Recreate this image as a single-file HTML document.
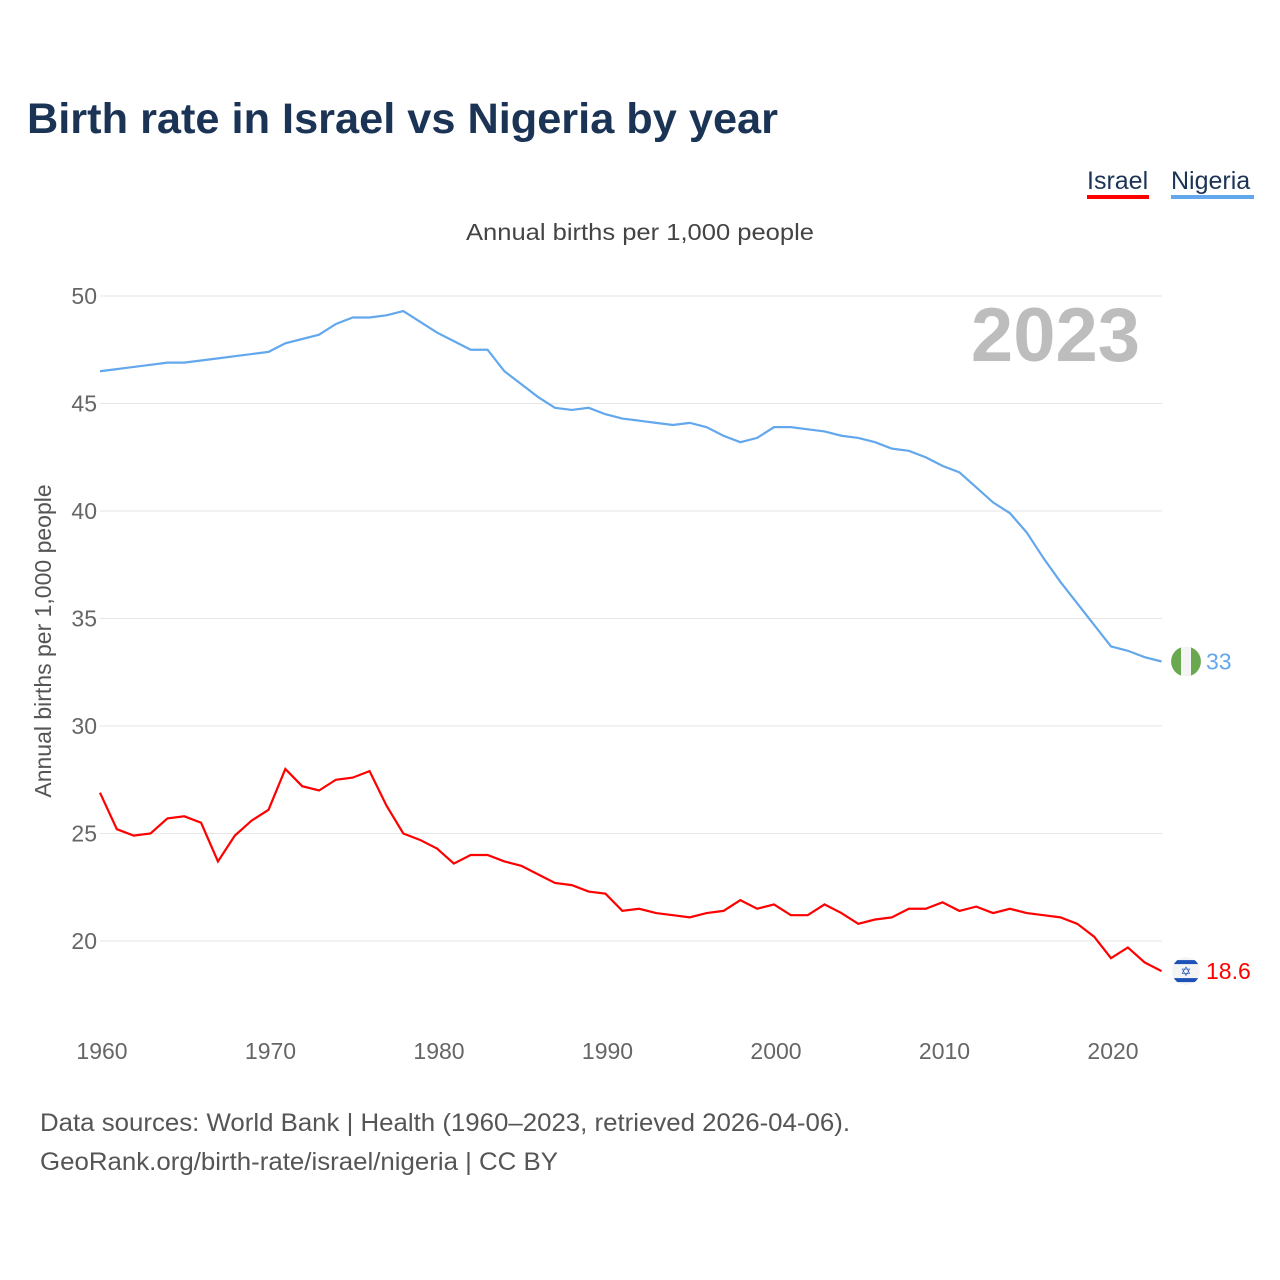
<!DOCTYPE html>
<html><head><meta charset="utf-8"><style>
body{margin:0;background:#fff;font-family:"Liberation Sans",sans-serif;}
#wrap{position:relative;width:1280px;height:1280px;overflow:hidden;}
</style></head><body>
<div id="wrap">
<svg id="chart" width="1280" height="1280">
<defs><clipPath id="ilclip"><circle cx="1186" cy="970" r="14"/></clipPath></defs>
<text x="27" y="133" font-size="43" font-weight="bold" fill="#1b3455" textLength="751" lengthAdjust="spacingAndGlyphs">Birth rate in Israel vs Nigeria by year</text>
<g><text x="1087" y="189" font-size="25" fill="#1b3455">Israel</text><rect x="1087" y="195" width="62" height="4" fill="#f00"/></g>
<g><text x="1171" y="189" font-size="25" fill="#1b3455">Nigeria</text><rect x="1171" y="195" width="83" height="4" fill="#63a7ec"/></g>
<text x="466" y="240" font-size="23" fill="#444" textLength="348" lengthAdjust="spacingAndGlyphs">Annual births per 1,000 people</text>
<text x="1140" y="361" font-size="76" font-weight="bold" fill="#bdbdbd" text-anchor="end">2023</text>
<text transform="translate(51,641) rotate(-90)" font-size="23" fill="#555" text-anchor="middle">Annual births per 1,000 people</text>
<g id="grid"></g><g id="series"></g>
<text x="40" y="1131" font-size="25" fill="#555" textLength="810" lengthAdjust="spacingAndGlyphs">Data sources: World Bank | Health (1960–2023, retrieved 2026-04-06).</text>
<text x="40" y="1170" font-size="25" fill="#555" textLength="518" lengthAdjust="spacingAndGlyphs">GeoRank.org/birth-rate/israel/nigeria | CC BY</text>
</svg></div>
<script>
const years=[];for(let y=1960;y<=2023;y++)years.push(y);
const nigeria=[46.5,46.6,46.7,46.8,46.9,46.9,47.0,47.1,47.2,47.3,47.4,47.8,48.0,48.2,48.7,49.0,49.0,49.1,49.3,48.8,48.3,47.9,47.5,47.5,46.5,45.9,45.3,44.8,44.7,44.8,44.5,44.3,44.2,44.1,44.0,44.1,43.9,43.5,43.2,43.4,43.9,43.9,43.8,43.7,43.5,43.4,43.2,42.9,42.8,42.5,42.1,41.8,41.1,40.4,39.9,39.0,37.8,36.7,35.7,34.7,33.7,33.5,33.2,33.0];
const israel=[26.9,25.2,24.9,25.0,25.7,25.8,25.5,23.7,24.9,25.6,26.1,28.0,27.2,27.0,27.5,27.6,27.9,26.3,25.0,24.7,24.3,23.6,24.0,24.0,23.7,23.5,23.1,22.7,22.6,22.3,22.2,21.4,21.5,21.3,21.2,21.1,21.3,21.4,21.9,21.5,21.7,21.2,21.2,21.7,21.3,20.8,21.0,21.1,21.5,21.5,21.8,21.4,21.6,21.3,21.5,21.3,21.2,21.1,20.8,20.2,19.2,19.7,19.0,18.6];
const yTicks=[20,25,30,35,40,45,50];
const xTicks=[1960,1970,1980,1990,2000,2010,2020];
const X=y=>100+(y-1960)*16.85, Y=v=>296+(50-v)*21.5;
const NS='http://www.w3.org/2000/svg';
const g=document.getElementById('grid'), s=document.getElementById('series');
function mk(t,a,p){const e=document.createElementNS(NS,t);for(const k in a)e.setAttribute(k,a[k]);p.appendChild(e);return e;}
yTicks.forEach(v=>{
const l=mk('line',{x1:100,x2:1162,y1:Y(v),y2:Y(v),stroke:'#e6e6e6','stroke-width':1},g);


const t=mk('text',{x:97,y:Y(v)+8,'font-size':23,fill:'#666','text-anchor':'end'},g);t.textContent=v;


});
xTicks.forEach(v=>{
const t=mk('text',{x:X(v)+2,y:1059,'font-size':23,fill:'#666','text-anchor':'middle'},g);t.textContent=v;


});
function line(data,color,name){
const p=mk('polyline',{points:data.map((v,i)=>X(years[i])+','+Y(v)).join(' '),fill:'none',stroke:color,'stroke-width':2.2},s);


}
line(nigeria,'#63a7ec','nigeria-line');
line(israel,'#f00','israel-line');
const ln=nigeria[nigeria.length-1], li=israel[israel.length-1];
const fn=mk('g',{},s);


mk('circle',{cx:1186,cy:Y(ln),r:15,fill:'#f4f4f4'},fn);
mk('path',{d:`M1181 ${Y(ln)-14.1} A15 15 0 0 0 1181 ${Y(ln)+14.1} Z`,fill:'#6aa84f'},fn);
mk('path',{d:`M1191 ${Y(ln)-14.1} A15 15 0 0 1 1191 ${Y(ln)+14.1} Z`,fill:'#6aa84f'},fn);
const tn=mk('text',{x:1206,y:Y(ln)+8,'font-size':23,fill:'#63a7ec'},s);tn.textContent=ln;


const fi=mk('g',{'clip-path':'url(#ilclip)',transform:`translate(0,${Y(li)-970})`},s);


mk('circle',{cx:1186,cy:970,r:14,fill:'#f4f4f4'},fi);
mk('rect',{x:1170,y:959,width:32,height:4,fill:'#1c52b8'},fi);
mk('rect',{x:1170,y:977,width:32,height:4,fill:'#1c52b8'},fi);
const st=mk('text',{x:1186,y:975,'font-size':13,fill:'#1c52b8','text-anchor':'middle'},fi);st.textContent='✡';
const ti=mk('text',{x:1206,y:Y(li)+8,'font-size':23,fill:'#f00'},s);ti.textContent=li;


</script>
</body></html>
